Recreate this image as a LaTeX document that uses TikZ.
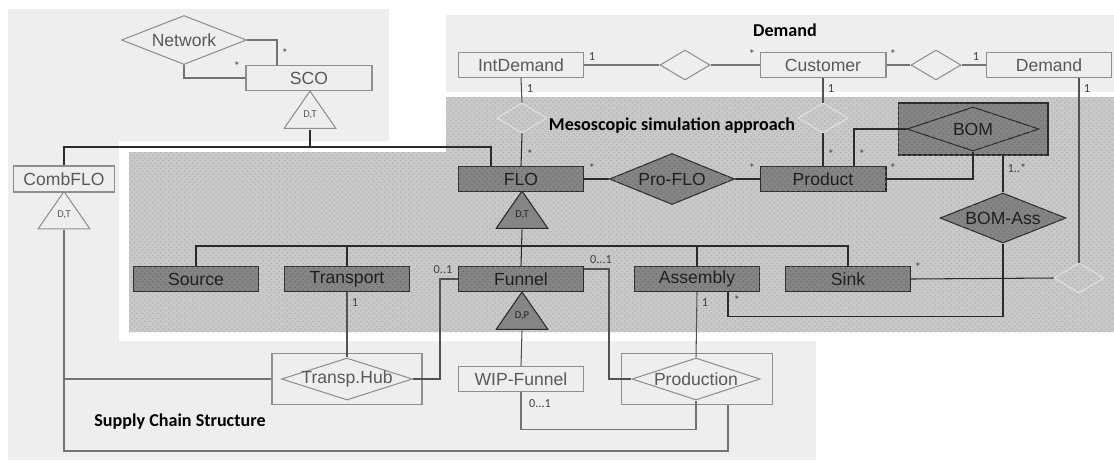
\documentclass[tikz,border=0pt]{standalone}
\usepackage{fontspec}
\setmainfont{Liberation Sans}
\newfontfamily\calfont{Carlito}
\usetikzlibrary{shapes.geometric,patterns,calc}

\definecolor{scbg}{HTML}{EEEEEE}
\definecolor{mesobg}{HTML}{C9C9C9}
\definecolor{mesodot}{HTML}{B2B2B2}
\definecolor{dkfill}{HTML}{858585}
\definecolor{dkdot}{HTML}{707070}
\definecolor{ltline}{HTML}{8F8F8F}
\definecolor{lttext}{HTML}{595959}
\definecolor{dkline}{HTML}{2B2B2B}

\tikzset{
  ent/.style={draw=ltline, text=lttext, minimum width=2.5cm, minimum height=0.5cm,
    inner sep=0pt, font=\fontsize{10}{12}\selectfont},
  dkent/.style={ent, draw=dkline, text=black!88, fill=dkfill,
    postaction={pattern=crosshatch dots, pattern color=dkdot}},
  rel/.style={diamond, draw=ltline, inner sep=0pt},
  mrel/.style={rel, draw=black!10, line width=0.5pt, minimum width=1cm, minimum height=0.6cm},
  dkrel/.style={rel, draw=dkline, fill=dkfill,
    postaction={pattern=crosshatch dots, pattern color=dkdot}},
  lbl/.style={text=lttext, inner sep=0pt, font=\fontsize{10}{12}\selectfont},
  dklbl/.style={lbl, text=black!88},
  gentri/.style={minimum width=1.06cm, minimum height=0.76cm, inner sep=0pt,
    text height=8pt, text depth=0pt, font=\calfont\fontsize{6}{7}\selectfont,
    path picture={\filldraw[#1] ([shift={(0.35pt,0.35pt)}]path picture bounding box.south west)
      -- (path picture bounding box.north)
      -- ([shift={(-0.35pt,0.35pt)}]path picture bounding box.south east) -- cycle;}},
  mult/.style={inner sep=0pt, text=black!75, font=\calfont\fontsize{7}{8}\selectfont},
  ltcon/.style={draw=black!55},
  mdcon/.style={draw=black!68},
  dkcon/.style={draw=dkline},
  title/.style={font=\calfont\bfseries\fontsize{10.3}{12}\selectfont},
}

\begin{document}
\begin{tikzpicture}[x=0.02cm,y=-0.02cm,line width=0.6pt]
\useasboundingbox (0,0) rectangle (1114,461);
% areas
\fill[scbg] (8,9) rectangle (816,460);
\fill[white] (389,0) -- (1114,0) -- (1114,461) -- (816,461) -- (816,341)
  -- (119,341) -- (119,141) -- (389,141) -- cycle;
\fill[scbg] (446,15) rectangle (1114,92);
\fill[mesobg,postaction={pattern=crosshatch dots,pattern color=mesodot}]
  (446,97) -- (1114,97) -- (1114,332) -- (129,332) -- (129,152) -- (446,152) -- cycle;

\node[title] (tdem) at (785,30) {Demand};
\node[title] (tmeso) at (672,126) {Mesoscopic simulation approach};
\node[title] (tsc) at (180,422) {Supply Chain Structure};

% supply chain structure
\node[rel, minimum width=2.5cm, minimum height=0.98cm, label={[lbl]center:Network}] (net) at (184,40) {};
\node[ent, minimum width=2.52cm] (sco) at (309,78) {SCO};
\node[gentri={draw=ltline,fill=scbg}, text=lttext] (scot) at (310,110) {D,T};
\node[ent, minimum width=2.02cm, minimum height=0.52cm] (comb) at (64,179) {CombFLO};
\node[gentri={draw=ltline,fill=scbg}, text=lttext] (combt) at (64,210.5) {D,T};
\node[ent, minimum width=3cm, minimum height=1.02cm] (hubbox) at (347,379) {};
\node[rel, minimum width=2.62cm, minimum height=0.84cm, label={[lbl]center:Transp.Hub}] (hub) at (347,379) {};
\node[ent] (wip) at (521,379) {WIP-Funnel};
\node[ent, minimum width=3.02cm, minimum height=1.02cm] (prodbox) at (697,379) {};
\node[rel, minimum width=2.56cm, minimum height=0.84cm, label={[lbl]center:Production}] (prodn) at (696,379) {};

% demand
\node[ent] (intd) at (521,65) {IntDemand};
\node[ent, minimum width=2.52cm] (cust) at (823,65) {Customer};
\node[ent] (dem) at (1049,65) {Demand};
\node[rel, minimum width=1cm, minimum height=0.6cm] (ric) at (685,65) {};
\node[rel, minimum width=1cm, minimum height=0.6cm] (rcd) at (936,65) {};

% mesoscopic simulation approach
\node[mrel] (rif) at (522,118) {};
\node[mrel] (rcp) at (823,118) {};
\node[mrel] (rsd) at (1079,278) {};
\node[dkent] (flo) at (521,179) {FLO};
\node[dkent, minimum width=2.52cm] (prod) at (823,179) {Product};
\node[dkrel, minimum width=2.5cm, minimum height=1.02cm, label={[dklbl]center:Pro-FLO}] (proflo) at (672,179) {};
\node[dkent, minimum width=3cm, minimum height=1.04cm] (bombox) at (973,129) {};
\node[dkrel, minimum width=2.64cm, minimum height=0.88cm, label={[dklbl]center:BOM}] (bom) at (973,129) {};
\node[dkrel, minimum width=2.52cm, minimum height=1cm, label={[dklbl]center:BOM-Ass}] (bomass) at (1003,218) {};
\node[gentri={draw=dkline,fill=dkfill}, text=black!85] (flot) at (522,210) {D,T};
\node[dkent] (src) at (196,279) {Source};
\node[dkent] (trans) at (347,279) {Transport};
\node[dkent] (fun) at (521,279) {Funnel};
\node[dkent] (asm) at (697,279) {Assembly};
\node[dkent] (sink) at (848,279) {Sink};
\node[gentri={draw=dkline,fill=dkfill}, text=black!85] (funt) at (522,311) {D,P};

% connectors
\draw[ltcon] (net.east) -| ($(sco.north)+(-32,0)$);
\draw[ltcon] (net.south) |- (sco.west);
\coordinate (scobar) at (310,147);
\draw[dkcon] (scot.south) -- (scobar);
\draw[dkcon] (comb.north) |- (scobar) -| ($(flo.north)+(-30,0)$);
\coordinate (sclow) at (64,451);
\draw[ltcon] (combt.south) |- (hubbox.west);
\draw[ltcon] (combt.south) -- (sclow) -| ($(prodbox.south)+(31,0)$);
\draw[mdcon] (trans.south) -- (hub.north);
\draw[mdcon] (fun.west) -- ++(-18,0) |- (hub.east);
\draw[mdcon] ($(fun.east)+(0,-10)$) -- ++(25,0) |- (prodn.west);
\draw[mdcon] (funt.south) -- (wip.north);
\draw[ltcon] (wip.south) -- ++(0,37) -| (prodn.south);
\draw[mdcon] (asm.south) -- (prodn.north);
\draw[dkcon] ($(asm.south)+(31,0)$) -- ++(0,24) -| (bomass.south);
\draw[dkcon] (flot.south) -- (fun.north);
\draw[dkcon] (src.north) -- ++(0,-20) -| (sink.north);
\draw[dkcon] (trans.north) -- ++(0,-20);
\draw[dkcon] (asm.north) -- ++(0,-20);
\draw[ltcon] (intd.east) -- (ric.west);
\draw[ltcon] (ric.east) -- (cust.west);
\draw[ltcon] (cust.east) -- (rcd.west);
\draw[ltcon] (rcd.east) -- (dem.west);
\draw[mdcon] (intd.south) -- (rif.north);
\draw[dkcon] (rif.south) -- (flo.north);
\draw[mdcon] (cust.south) -- (rcp.north);
\draw[dkcon] (rcp.south) -- (prod.north);
\draw[mdcon] ($(dem.south)+(30,0)$) -- (rsd.north);
\draw[dkcon] (sink.east) -- (rsd.west);
\draw[dkcon] (flo.east) -- (proflo.west);
\draw[dkcon] (proflo.east) -- (prod.west);
\draw[dkcon] (bom.west) -| ($(prod.north)+(31,0)$);
\draw[dkcon] (bom.south) |- (prod.east);
\draw[dkcon] ($(bombox.south)+(30,0)$) -- (bomass.north);

% multiplicities
\foreach \x/\y/\t [count=\i] in {285/53/*, 237/66/*, 355/303/1, 443/270/0..1,
    705/303/1, 737/300/*, 918/267/*, 1087/89/1,
    592/57/1, 752/54/*, 893/54/*, 976/57/1, 530/89/1, 530/154/*, 831/89/1,
    831/154/*, 592/168/*, 752/168/*, 862/154/*, 893/168/*, 1017/168/1..*}
  \node[mult] (m\i) at (\x,\y) {\t};
\node[mult] (mfp) at (601,260) {0...1};
\node[mult] (mwp) at (540,404) {0...1};
\end{tikzpicture}
\end{document}
